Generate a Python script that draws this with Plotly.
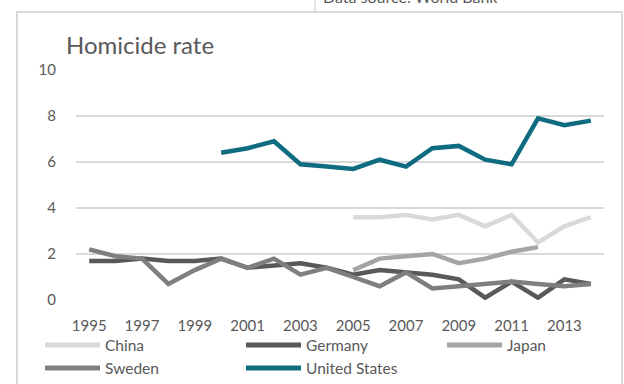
import plotly.graph_objects as go

# Homicide rate per 100,000 people, 1995-2014
years = [str(y) for y in range(1995, 2015)]
tick_years = [str(y) for y in range(1995, 2015, 2)]

china = [None] * 10 + [3.6, 3.6, 3.7, 3.5, 3.7, 3.2, 3.7, 2.5, 3.2, 3.6]
germany = [1.7, 1.7, 1.8, 1.7, 1.7, 1.8, 1.4, 1.5, 1.6, 1.4,
           1.1, 1.3, 1.2, 1.1, 0.9, 0.1, 0.8, 0.1, 0.9, 0.7]
japan = [None] * 10 + [1.3, 1.8, 1.9, 2.0, 1.6, 1.8, 2.1, 2.3, None, None]
sweden = [2.2, 1.9, 1.8, 0.7, 1.3, 1.8, 1.4, 1.8, 1.1, 1.4,
          1.0, 0.6, 1.2, 0.5, 0.6, 0.7, 0.8, 0.7, 0.6, 0.7]
united_states = [None] * 5 + [6.4, 6.6, 6.9, 5.9, 5.8, 5.7, 6.1, 5.8, 6.6,
                              6.7, 6.1, 5.9, 7.9, 7.6, 7.8]

series_names = ["China", "Germany", "Japan", "Sweden", "United States"]
series_values = [china, germany, japan, sweden, united_states]
series_colors = ["#d9d9d9", "#595959", "#a5a5a5", "#7f7f7f", "#0e6b80"]

W, H = 624, 384
L, R, T, B = 76, 20, 70, 84
PW, PH = W - L - R, H - T - B
FONT = "Lato, 'Open Sans', sans-serif"
TEXT = "#595959"
GRID = "#d9d9d9"


def px_x(x):
    return (x - L) / PW


def px_y(y):
    return (H - B - y) / PH


fig = go.Figure()
for name, vals, color in zip(series_names, series_values, series_colors):
    fig.add_trace(go.Scatter(
        x=years, y=vals, name=name, mode="lines",
        line=dict(color=color, width=4.5),
        connectgaps=False, showlegend=False,
    ))

shapes = []
annotations = []

# outer chart frame and data-source box edge
shapes.append(dict(type="rect", xref="paper", yref="paper",
                   x0=px_x(17), x1=px_x(622), y0=px_y(400), y1=px_y(12),
                   line=dict(color=GRID, width=2), layer="below"))
shapes.append(dict(type="line", xref="paper", yref="paper",
                   x0=px_x(315), x1=px_x(315), y0=px_y(12), y1=px_y(-5),
                   line=dict(color=GRID, width=1.5)))
annotations.append(dict(text="Data source: World Bank", xref="paper", yref="paper",
                        x=px_x(321), y=px_y(8), xanchor="left", yanchor="bottom",
                        showarrow=False, font=dict(family=FONT, size=16, color=TEXT)))

# title
annotations.append(dict(text="Homicide rate", xref="paper", yref="paper",
                        x=px_x(64), y=px_y(45), xanchor="left", yanchor="middle",
                        showarrow=False, font=dict(family=FONT, size=24, color=TEXT)))

# legend laid out in a grid of three columns
legend_cols = [45, 246, 447]
legend_rows = [345, 368]
for i, (name, color) in enumerate(zip(series_names, series_colors)):
    cx = legend_cols[i % 3]
    cy = legend_rows[i // 3]
    shapes.append(dict(type="line", xref="paper", yref="paper",
                       x0=px_x(cx), x1=px_x(cx + 55), y0=px_y(cy), y1=px_y(cy),
                       line=dict(color=color, width=5)))
    annotations.append(dict(text=name, xref="paper", yref="paper",
                            x=px_x(cx + 58), y=px_y(cy), xanchor="left", yanchor="middle",
                            showarrow=False, font=dict(family=FONT, size=15.5, color=TEXT)))

fig.update_layout(
    width=W, height=H,
    margin=dict(l=L, r=R, t=T, b=B),
    paper_bgcolor="white", plot_bgcolor="white",
    shapes=shapes, annotations=annotations,
    showlegend=False,
    xaxis=dict(type="category", categoryorder="array", categoryarray=years,
               range=[-0.5, 19.5], tickvals=tick_years, ticktext=tick_years,
               showgrid=False, showline=False, zeroline=False,
               ticks="outside", ticklen=12, tickcolor="rgba(0,0,0,0)",
               tickfont=dict(family=FONT, size=15, color=TEXT)),
    yaxis=dict(range=[0, 10], tickvals=[0, 2, 4, 6, 8, 10],
               showgrid=True, gridcolor=GRID, gridwidth=1.5,
               zeroline=False, showline=False,
               ticks="outside", ticklen=16, tickcolor="rgba(0,0,0,0)",
               tickfont=dict(family=FONT, size=15, color=TEXT)),
)

fig.write_html("out.html")
